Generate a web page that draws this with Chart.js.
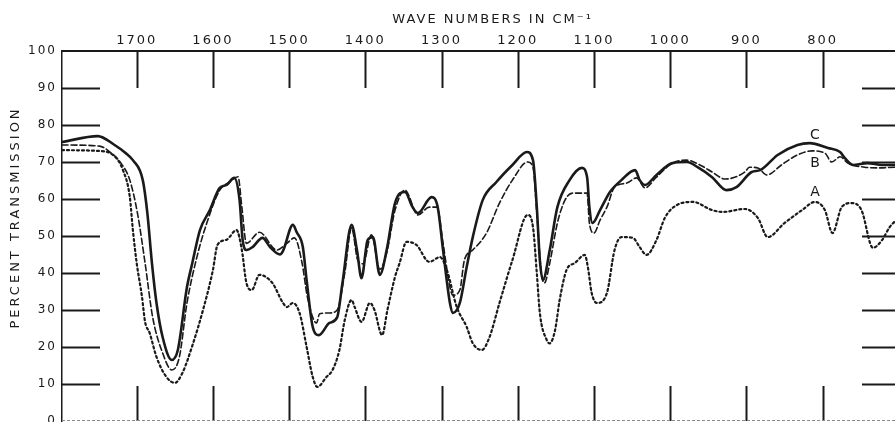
<!DOCTYPE html>
<html>
<head>
<meta charset="utf-8">
<script src="https://cdn.jsdelivr.net/npm/chart.js@4/dist/chart.umd.min.js"></script>
<style>
  html, body { margin: 0; padding: 0; background: #fff; }
  #wrap { width: 895px; height: 422px; }
</style>
</head>
<body>
<div id="wrap"><canvas id="spectrum" width="895" height="422"></canvas></div>
<script>
// tick values
const waveTicks = [1700, 1600, 1500, 1400, 1300, 1200, 1100, 1000, 900, 800];
const transTicks = [0, 10, 20, 30, 40, 50, 60, 70, 80, 90, 100];

// [wave number cm-1, percent transmission]
const curveC = [
  [1798,75.4],[1751,77],[1729,74.6],[1715,72.5],[1705,70.5],[1692,65.1],[1686,56.2],[1680,42.7],
  [1674,31.9],[1666,22.7],[1654,16.5],[1646,19.2],[1634,36.2],[1627,42.7],[1617,51.6],[1604,57],
  [1591,63],[1582,63.8],[1572,65.7],[1565,59.7],[1561,49],[1556,46.2],[1548,47],[1535,49.5],
  [1525,47],[1512,45],[1508,46],[1495,53],[1490,51],[1482,47],[1477,38],[1469,25.4],[1461,23.2],
  [1447,26.5],[1437,28],[1430,37.3],[1418,53],[1411,46.2],[1405,38.6],[1397,48.9],[1390,49.7],
  [1381,39.5],[1372,46.2],[1361,58.9],[1348,61.9],[1338,57.8],[1331,56.2],[1313,60.5],[1305,57.8],
  [1298,46.2],[1289,31.9],[1285,29.2],[1276,31.9],[1267,41.6],[1259,49.7],[1246,59.7],[1228,64.6],
  [1207,69.2],[1188,72.7],[1180,70.5],[1175,57.8],[1171,43.5],[1167,38.1],[1158,46.2],[1148,57.8],
  [1132,65.1],[1116,68.4],[1109,65.9],[1106,57.8],[1102,53.5],[1092,57],[1079,61.9],[1064,65.1],
  [1046,67.8],[1040,65.1],[1033,63.8],[1018,66.5],[997,69.7],[978,70],[964,68.6],[945,65.9],
  [926,62.4],[913,63.2],[893,67.3],[882,67.8],[859,71.9],[833,74.6],[817,75.1],[793,73.8],
  [777,72.7],[771,71.1],[760,69.2],[741,69.7],[722,69.2],[705,69.2]
];
const curveB = [
  [1798,74.6],[1749,74.3],[1735,72.7],[1720,69.5],[1709,65.1],[1699,56.2],[1689,42.7],[1679,28],
  [1666,18.4],[1654,13.8],[1644,17.3],[1634,31.9],[1621,44.3],[1608,53.5],[1591,62.4],[1578,64.6],
  [1567,66],[1562,57.8],[1556,48],[1539,51],[1516,46.2],[1503,48],[1493,49.5],[1483,42.7],
  [1476,33.5],[1464,26.5],[1460,29],[1447,29.2],[1437,30],[1427,40],[1418,52.2],[1410,43.5],
  [1403,42.5],[1392,50.3],[1381,41],[1372,45.4],[1361,57],[1348,62.4],[1331,55.7],[1316,57.8],
  [1306,57.8],[1298,48],[1289,36.2],[1285,34],[1276,35.4],[1270,43.5],[1259,46.2],[1241,50.8],
  [1224,58.9],[1207,65.1],[1187,70],[1180,68.6],[1175,56.2],[1169,40],[1165,37.3],[1158,42.7],
  [1148,53.5],[1138,59.7],[1128,61.6],[1109,61.6],[1106,53.5],[1100,50.8],[1092,54.3],[1083,57.8],
  [1073,63.2],[1057,64.3],[1044,65.7],[1033,63],[1018,65.9],[997,69.7],[978,70.5],[961,69.2],
  [945,67.3],[928,65.4],[902,67.3],[896,68.6],[885,68.4],[873,66.5],[854,69.2],[833,71.9],
  [814,73],[797,72.4],[788,70],[777,71.4],[767,69.7],[745,68.6],[728,68.4],[705,68.6]
];
const curveA = [
  [1798,73.2],[1751,73],[1731,71.9],[1718,67.8],[1709,60.5],[1705,51.6],[1700,42.7],[1693,33.5],
  [1689,26.8],[1683,23.8],[1674,17.3],[1661,11.9],[1650,10.3],[1640,13],[1626,21],[1613,30],
  [1600,40.8],[1594,47.6],[1582,49],[1569,51.6],[1562,46.2],[1556,37.3],[1549,35.4],[1539,39.5],
  [1522,37.3],[1508,31.9],[1503,30.8],[1495,31.9],[1486,29],[1477,20],[1469,11.9],[1463,9.2],
  [1451,11.9],[1443,13.8],[1434,19.2],[1427,27.3],[1418,32.7],[1414,30.8],[1405,26.8],[1394,31.9],
  [1388,30],[1378,23.2],[1371,30],[1361,39],[1355,42.7],[1346,48.4],[1333,47.6],[1316,43],
  [1302,44.3],[1293,40.8],[1280,30.8],[1267,25.4],[1259,21],[1247,19.2],[1237,22.7],[1224,31.9],
  [1207,43.5],[1187,55.7],[1180,52.4],[1175,40],[1171,29.2],[1162,21.9],[1158,21],[1151,24.6],
  [1145,32.7],[1136,40.8],[1125,42.7],[1112,44.9],[1108,41.6],[1103,34.6],[1096,31.9],[1083,34.6],
  [1073,46.2],[1064,49.7],[1049,49.5],[1040,47],[1031,44.9],[1018,48.9],[1007,54.9],[991,58.4],
  [970,59.2],[945,57],[931,56.5],[902,57.3],[885,54.9],[872,49.7],[850,53.5],[827,57],
  [810,59.2],[797,57],[787,50.8],[775,57.8],[762,58.9],[749,57],[734,46.8],[722,48.9],
  [712,52.4],[705,54]
];

const curveNames = ['C', 'B', 'A'];
const nameWave = [810, 810, 810];
const nameTrans = [77.3, 69.7, 61.9];

const ink = '#1a1a1a';
const fontFam = '"DejaVu Sans", "Liberation Sans", sans-serif';

function toPoints(pairs) {
  return pairs.map(p => ({ x: p[0], y: p[1] }));
}

// inner tick marks, bottom edge, titles and curve letters
const decorations = {
  id: 'decorations',
  beforeDraw(chart) {
    chart.ctx.letterSpacing = '2px';
  },
  afterDraw(chart) {
    const { ctx, chartArea: a, scales: { x, y } } = chart;
    ctx.save();
    ctx.strokeStyle = ink;
    ctx.lineWidth = 2;
    ctx.beginPath();
    transTicks.forEach(v => {
      if (v === 0 || v === 100) return;
      const py = Math.round(y.getPixelForValue(v)) + 0.5;
      ctx.moveTo(a.left, py); ctx.lineTo(a.left + 38, py);
      ctx.moveTo(a.right - 33, py); ctx.lineTo(a.right, py);
    });
    waveTicks.forEach(v => {
      const px = Math.round(x.getPixelForValue(v)) + 0.5;
      ctx.moveTo(px, a.top); ctx.lineTo(px, a.top + 37);
      ctx.moveTo(px, a.bottom - 35); ctx.lineTo(px, a.bottom);
    });
    ctx.stroke();

    // faint lower frame line
    ctx.strokeStyle = '#8a8a8a';
    ctx.lineWidth = 1;
    ctx.setLineDash([3, 2]);
    ctx.beginPath();
    ctx.moveTo(a.left, a.bottom - 0.5); ctx.lineTo(a.right, a.bottom - 0.5);
    ctx.stroke();
    ctx.setLineDash([]);

    ctx.fillStyle = ink;
    ctx.font = '13px ' + fontFam;
    ctx.letterSpacing = '2px';
    ctx.textAlign = 'center';
    ctx.textBaseline = 'middle';
    ctx.fillText('WAVE NUMBERS IN CM\u207B\u00B9', x.getPixelForValue(1233), 20);

    ctx.save();
    ctx.translate(16, y.getPixelForValue(55));
    ctx.rotate(-Math.PI / 2);
    ctx.letterSpacing = '3px';
    ctx.fillText('PERCENT TRANSMISSION', 0, 0);
    ctx.restore();

    ctx.letterSpacing = '0px';
    ctx.font = '14px ' + fontFam;
    curveNames.forEach((n, i) => {
      ctx.fillText(n, x.getPixelForValue(nameWave[i]), y.getPixelForValue(nameTrans[i]));
    });
    ctx.restore();
  }
};

new Chart(document.getElementById('spectrum'), {
  type: 'line',
  data: {
    datasets: [
      { label: 'C', data: toPoints(curveC), borderColor: ink, borderWidth: 2.6 },
      { label: 'B', data: toPoints(curveB), borderColor: ink, borderWidth: 1.6, borderDash: [6, 3] },
      { label: 'A', data: toPoints(curveA), borderColor: ink, borderWidth: 2.2, borderDash: [2, 3] }
    ]
  },
  options: {
    responsive: false,
    animation: false,
    layout: { padding: { top: 0, right: 0, bottom: 1, left: 0 } },
    elements: {
      point: { radius: 0 },
      line: { cubicInterpolationMode: 'monotone', borderCapStyle: 'round', fill: false }
    },
    plugins: { legend: { display: false }, tooltip: { enabled: false } },
    scales: {
      x: {
        type: 'linear',
        position: 'top',
        reverse: true,
        min: 705,
        max: 1798,
        afterBuildTicks: s => { s.ticks = waveTicks.map(v => ({ value: v })); },
        afterFit: s => { s.height = 51; s.paddingLeft = 0; s.paddingRight = 0; },
        grid: { display: false, drawTicks: false },
        border: { display: true, color: ink, width: 2 },
        ticks: {
          padding: 3,
          color: ink,
          maxRotation: 0,
          autoSkip: false,
          font: { family: fontFam, size: 13 },
          callback: v => String(v)
        }
      },
      y: {
        min: 0,
        max: 100,
        afterBuildTicks: s => { s.ticks = transTicks.map(v => ({ value: v })); },
        afterFit: s => { s.width = 62; s.paddingTop = 0; s.paddingBottom = 0; },
        grid: { display: false, drawTicks: false },
        border: { display: true, color: ink, width: 1.5 },
        ticks: {
          padding: 5,
          color: ink,
          autoSkip: false,
          font: { family: fontFam, size: 12 },
          callback: v => String(v)
        }
      }
    }
  },
  plugins: [decorations]
});
</script>
</body>
</html>
